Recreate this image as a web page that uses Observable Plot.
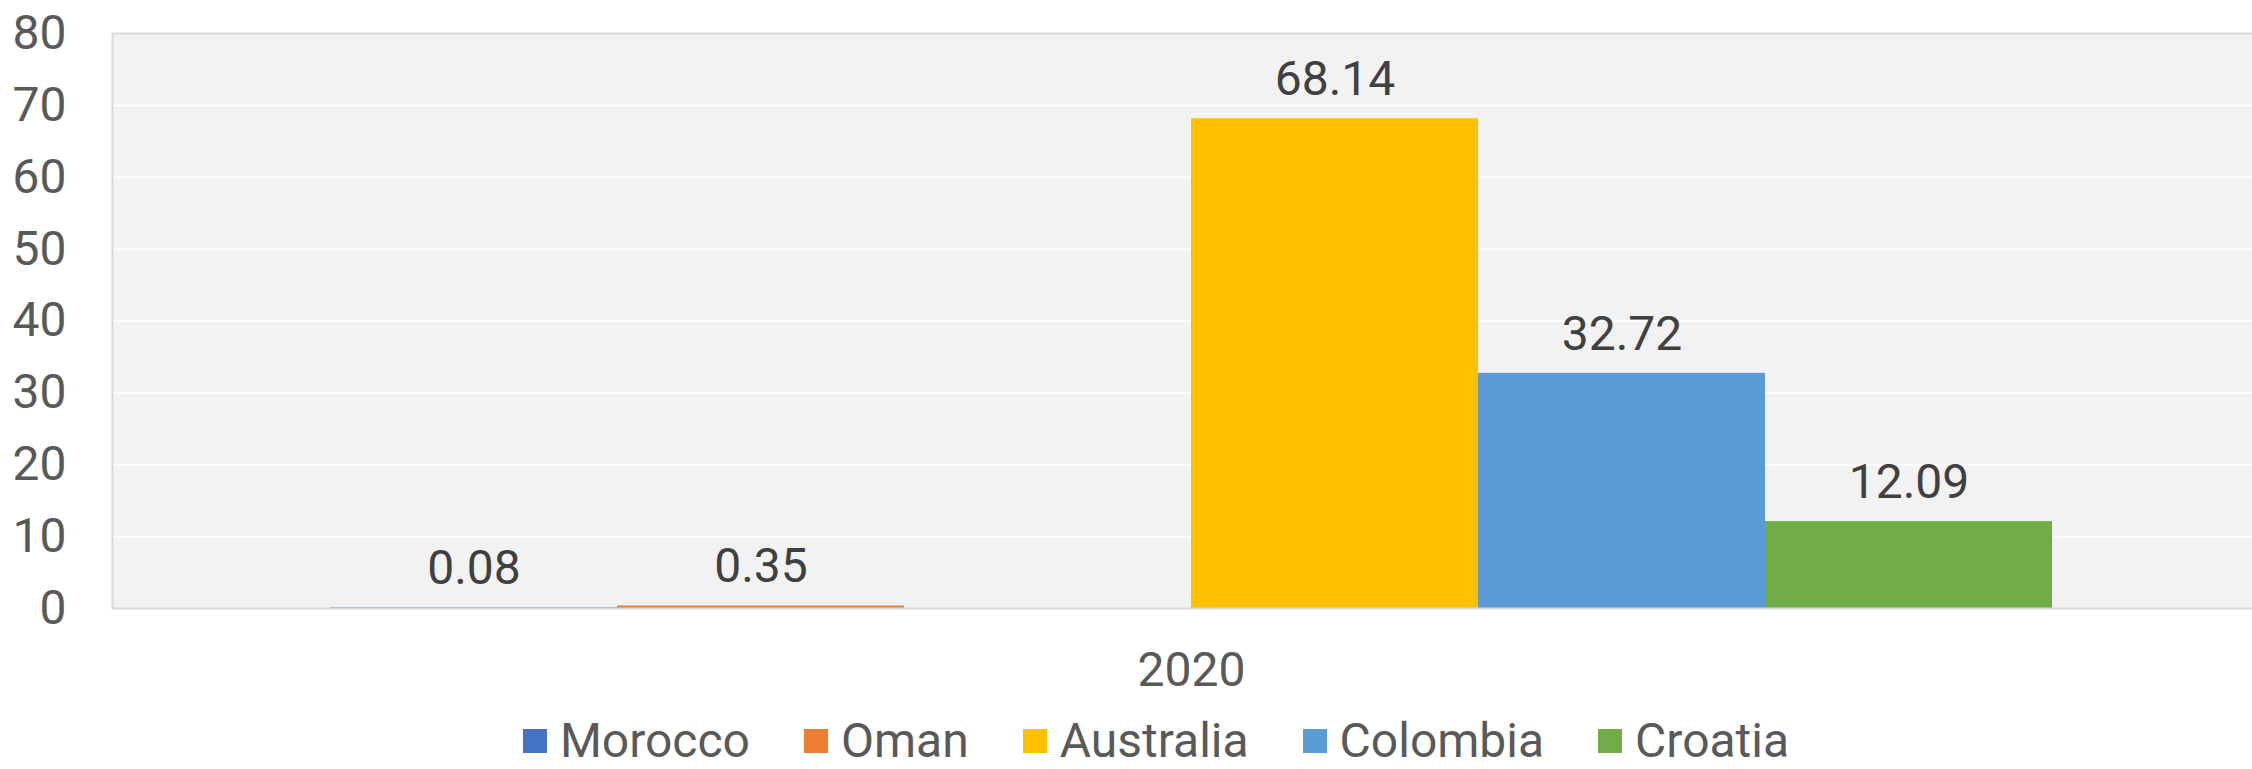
<!DOCTYPE html>
<html>
<head>
<meta charset="utf-8">
<script src="https://cdn.jsdelivr.net/npm/d3@7"></script>
<script src="https://cdn.jsdelivr.net/npm/@observablehq/plot@0.6"></script>
<style>
  html, body { margin: 0; padding: 0; background: #ffffff; overflow: hidden; }
  body { width: 2252px; height: 769px; font-family: Roboto, "Noto Sans", sans-serif; }
  #chart { width: 2252px; height: 700px; overflow: hidden; }
  #chart svg { max-width: none !important; display: block; }
  #legend {
    display: flex; justify-content: center; align-items: center;
    width: 2252px; height: 44px; margin-top: 19px; padding-left: 60px; box-sizing: border-box;
    font-family: Roboto, sans-serif; font-size: 48px; line-height: 44px; color: #595959;
  }
  .item { display: flex; align-items: center; margin: 0 27px; }
  .sw { width: 24px; height: 24px; margin-right: 13px; }
</style>
</head>
<body>
<div id="chart"></div>
<div id="legend"></div>
<script>
const years = ["2020"];
const countries = ["Morocco", "Oman", "Australia", "Colombia", "Croatia"];
const values = [0.08, 0.35, 68.14, 32.72, 12.09];
const colors = ["#4472C4", "#ED7D31", "#FFC000", "#5B9BD5", "#70AD47"];
// the original chart keeps an empty bar slot between Oman and Australia
const slots = ["Morocco", "Oman", "", "Australia", "Colombia", "Croatia"];
const yTicks = [0, 10, 20, 30, 40, 50, 60, 70, 80];

const data = countries.map((c, i) => ({year: years[0], country: c, value: values[i]}));

// the reference plot area runs slightly past the right edge of the picture
const chart = Plot.plot({
  width: 2270,
  height: 700,
  marginLeft: 112,
  marginRight: 0,
  marginTop: 33,
  marginBottom: 92,
  style: {fontFamily: "Roboto, sans-serif", fontSize: "48px", background: "white", color: "#595959", maxWidth: "none"},
  fx: {domain: years, padding: 0, label: null, axis: "bottom", tickSize: 0, tickPadding: 43},
  x: {domain: slots, paddingInner: 0, paddingOuter: 0.753, axis: null},
  y: {domain: [0, 80], ticks: yTicks, tickSize: 0, tickPadding: 46, label: null},
  color: {domain: countries, range: colors},
  marks: [
    Plot.frame({fill: "#F2F2F2", stroke: "none"}),
    Plot.gridY(yTicks.filter(d => d > 0 && d < 80), {stroke: "#ffffff", strokeOpacity: 1, strokeWidth: 2}),
    Plot.barY(data, {fx: "year", x: "country", y: "value", fill: "country"}),
    Plot.frame({stroke: "#D9D9D9", strokeWidth: 2}),
    Plot.text(data, {fx: "year", x: "country", y: "value", text: d => d.value.toFixed(2), dy: -39, fill: "#404040", fontSize: 48})
  ]
});
document.getElementById("chart").appendChild(chart);

const legend = document.getElementById("legend");
countries.forEach((c, i) => {
  const item = document.createElement("div");
  item.className = "item";
  const sw = document.createElement("div");
  sw.className = "sw";
  sw.style.background = colors[i];
  const label = document.createElement("span");
  label.textContent = c;
  item.appendChild(sw);
  item.appendChild(label);
  legend.appendChild(item);
});
</script>
</body>
</html>
